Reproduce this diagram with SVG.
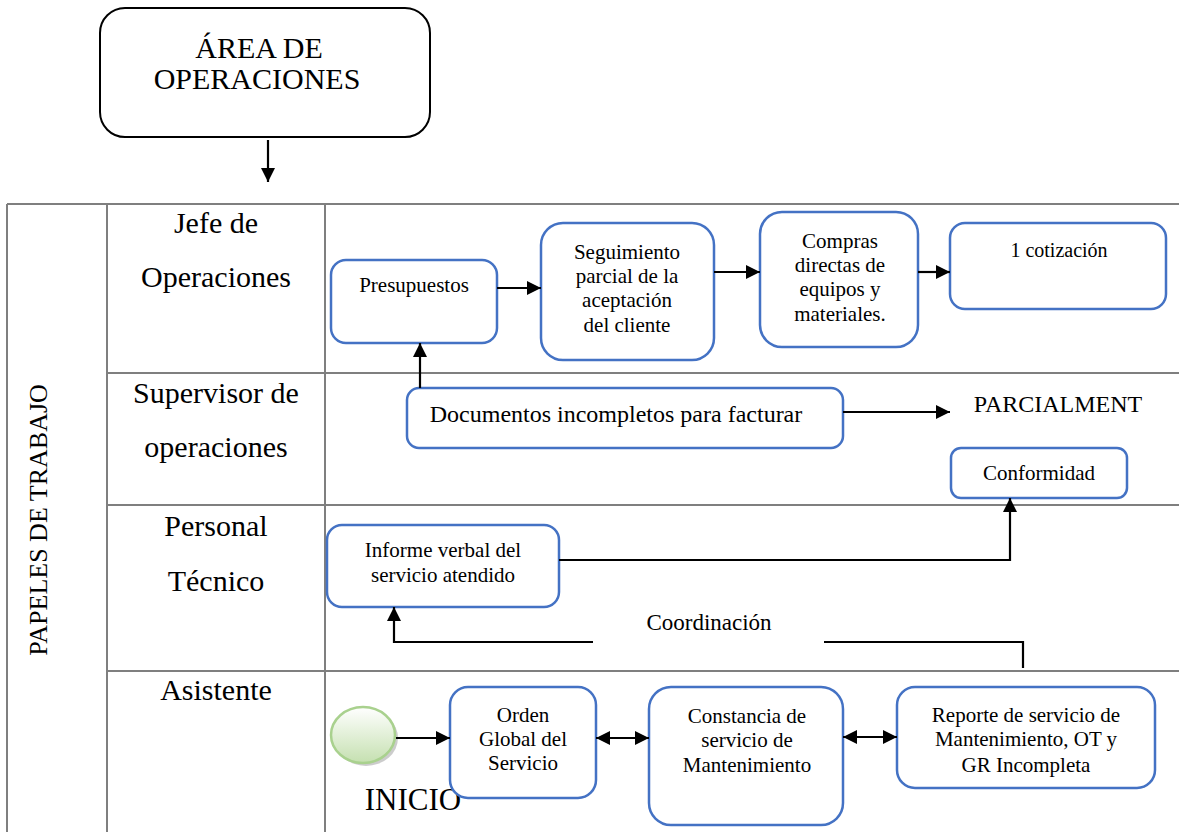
<svg xmlns="http://www.w3.org/2000/svg" width="1179" height="832" viewBox="0 0 1179 832" font-family="Liberation Serif">
<style>
.lane{font-size:30px;text-anchor:middle}
.bt{font-size:21px;text-anchor:middle}
.box{fill:#fff;stroke:#4472c4;stroke-width:2.5}
.grid{stroke:#7f7f7f;stroke-width:2;fill:none}
.ln{stroke:#000;stroke-width:2.2;fill:none}
</style>
<defs>
<marker id="ah" markerUnits="userSpaceOnUse" markerWidth="14" markerHeight="14" refX="14" refY="7" orient="auto-start-reverse">
<path d="M0,0 L14,7 L0,14 z" fill="#000"/>
</marker>
<linearGradient id="gg" x1="0" y1="0" x2="0" y2="1">
<stop offset="0" stop-color="#ffffff"/>
<stop offset="1" stop-color="#c5e0b0"/>
</linearGradient>
</defs>
<rect width="1179" height="832" fill="#fff"/>

<g id="grid">
<path class="grid" d="M7,204 H1179 M7,204 V832 M107,204 V832 M325,204 V832 M107,373 H1179 M107,505 H1179 M107,671 H1179"/>
</g>

<g id="lanes">
<text font-family="Liberation Serif" x="38" y="520" font-size="26" text-anchor="middle" transform="rotate(-90 38 520)" dy="9">PAPELES DE TRABAJO</text>
<text font-family="Liberation Serif" class="lane" x="216" y="233">Jefe de</text>
<text font-family="Liberation Serif" class="lane" x="216" y="287">Operaciones</text>
<text font-family="Liberation Serif" class="lane" x="216" y="403">Supervisor de</text>
<text font-family="Liberation Serif" class="lane" x="216" y="457">operaciones</text>
<text font-family="Liberation Serif" class="lane" x="216" y="536">Personal</text>
<text font-family="Liberation Serif" class="lane" x="216" y="591">T&#233;cnico</text>
<text font-family="Liberation Serif" class="lane" x="216" y="700">Asistente</text>
</g>

<g id="area">
<rect x="100" y="8" width="330" height="129" rx="25" fill="#fff" stroke="#000" stroke-width="2"/>
<text font-family="Liberation Serif" x="259" y="58" font-size="30" text-anchor="middle">&#193;REA DE</text>
<text font-family="Liberation Serif" x="257" y="89" font-size="30" text-anchor="middle">OPERACIONES</text>
</g>

<g id="presupuestos">
<rect class="box" x="331" y="260" width="166" height="83" rx="15"/>
<text font-family="Liberation Serif" class="bt" x="414" y="292">Presupuestos</text>
</g>

<g id="seguimiento">
<rect class="box" x="541" y="223" width="173" height="137" rx="22"/>
<text font-family="Liberation Serif" class="bt" x="627" y="259">Seguimiento</text>
<text font-family="Liberation Serif" class="bt" x="627" y="283">parcial de la</text>
<text font-family="Liberation Serif" class="bt" x="627" y="307">aceptaci&#243;n</text>
<text font-family="Liberation Serif" class="bt" x="627" y="332">del cliente</text>
</g>

<g id="compras">
<rect class="box" x="760" y="212" width="158" height="135" rx="22"/>
<text font-family="Liberation Serif" class="bt" x="840" y="248">Compras</text>
<text font-family="Liberation Serif" class="bt" x="840" y="272">directas de</text>
<text font-family="Liberation Serif" class="bt" x="840" y="296">equipos y</text>
<text font-family="Liberation Serif" class="bt" x="840" y="321">materiales.</text>
</g>

<g id="cotizacion">
<rect class="box" x="950" y="223" width="216" height="86" rx="15"/>
<text font-family="Liberation Serif" x="1059" y="257" font-size="20" text-anchor="middle">1 cotizaci&#243;n</text>
</g>

<g id="documentos">
<rect class="box" x="407" y="388" width="436" height="60" rx="12"/>
<text font-family="Liberation Serif" x="616" y="422" font-size="24" text-anchor="middle">Documentos incompletos para facturar</text>
</g>

<g id="parcialment">
<text font-family="Liberation Serif" x="1058" y="412" font-size="24" text-anchor="middle">PARCIALMENT</text>
</g>

<g id="conformidad">
<rect class="box" x="951" y="448" width="176" height="50" rx="10"/>
<text font-family="Liberation Serif" class="bt" x="1039" y="480">Conformidad</text>
</g>

<g id="informe">
<rect class="box" x="327" y="525" width="232" height="82" rx="15"/>
<text font-family="Liberation Serif" class="bt" x="443" y="557">Informe verbal del</text>
<text font-family="Liberation Serif" class="bt" x="443" y="582">servicio atendido</text>
</g>

<g id="coordinacion">
<text font-family="Liberation Serif" x="709" y="630" font-size="23" text-anchor="middle">Coordinaci&#243;n</text>
</g>

<g id="inicio">
<ellipse cx="366" cy="738" rx="32" ry="28" fill="#bfbfbf" opacity="0.8"/>
<ellipse cx="363" cy="735" rx="32" ry="28" fill="url(#gg)" stroke="#a9d18e" stroke-width="2.5"/>
<text font-family="Liberation Serif" x="413" y="810" font-size="31" text-anchor="middle">INICIO</text>
</g>

<g id="orden">
<rect class="box" x="450" y="687" width="146" height="111" rx="18"/>
<text font-family="Liberation Serif" class="bt" x="523" y="722">Orden</text>
<text font-family="Liberation Serif" class="bt" x="523" y="746">Global del</text>
<text font-family="Liberation Serif" class="bt" x="523" y="770">Servicio</text>
</g>

<g id="constancia">
<rect class="box" x="649" y="687" width="194" height="138" rx="22"/>
<text font-family="Liberation Serif" class="bt" x="747" y="723">Constancia de</text>
<text font-family="Liberation Serif" class="bt" x="747" y="747">servicio de</text>
<text font-family="Liberation Serif" class="bt" x="747" y="772">Mantenimiento</text>
</g>

<g id="reporte">
<rect class="box" x="897" y="687" width="258" height="101" rx="18"/>
<text font-family="Liberation Serif" class="bt" x="1026" y="722">Reporte de servicio de</text>
<text font-family="Liberation Serif" class="bt" x="1026" y="746">Mantenimiento, OT y</text>
<text font-family="Liberation Serif" class="bt" x="1026" y="772">GR Incompleta</text>
</g>

<g id="connectors">
<path class="ln" d="M268,140 V182" marker-end="url(#ah)"/>
<path class="ln" d="M497,288 H541" marker-end="url(#ah)"/>
<path class="ln" d="M714,272 H760" marker-end="url(#ah)"/>
<path class="ln" d="M918,272 H950" marker-end="url(#ah)"/>
<path class="ln" d="M420,388 V343" marker-end="url(#ah)"/>
<path class="ln" d="M843,412 H950" marker-end="url(#ah)"/>
<path class="ln" d="M559,560 H1010 V498" marker-end="url(#ah)"/>
<path class="ln" d="M1023,668 V642 H824"/>
<path class="ln" d="M593,642 H394 V607" marker-end="url(#ah)"/>
<path class="ln" d="M396,738 H450" marker-end="url(#ah)"/>
<path class="ln" d="M596,738 H649" marker-start="url(#ah)" marker-end="url(#ah)"/>
<path class="ln" d="M843,737 H897" marker-start="url(#ah)" marker-end="url(#ah)"/>
</g>
</svg>
